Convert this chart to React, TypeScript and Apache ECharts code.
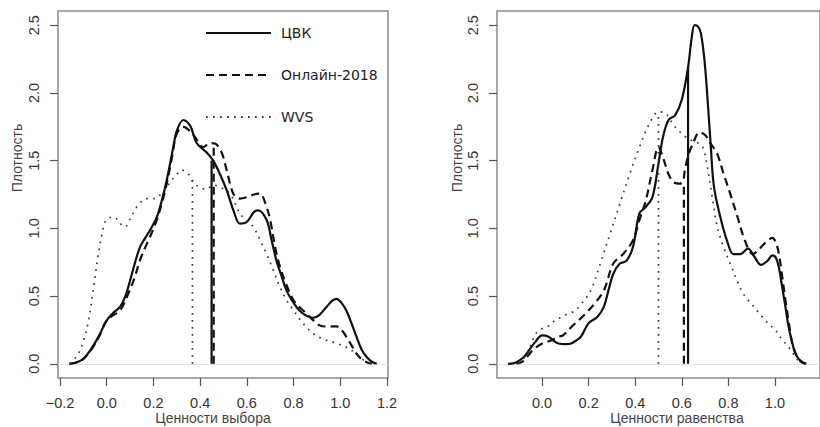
import React, { useEffect, useRef } from "react";
import * as echarts from "echarts";

const legendNames = ["ЦВК", "Онлайн-2018", "WVS"];
const choiceTicks = [-0.2, 0, 0.2, 0.4, 0.6, 0.8, 1.0, 1.2];
const equalityTicks = [0, 0.2, 0.4, 0.6, 0.8, 1.0];
const densityTicks = [0, 0.5, 1, 1.5, 2, 2.5];
const xTitles = ["Ценности выбора", "Ценности равенства"];
const yTitle = "Плотность";

// Density curves, panel 1 (choice values)
const cvkChoice = [
  [-0.16, 0], [-0.13, 0.01], [-0.1, 0.037], [-0.07, 0.1], [-0.036, 0.197], [0, 0.32], [0.03, 0.38],
  [0.057, 0.42], [0.08, 0.5], [0.1, 0.615], [0.12, 0.74], [0.142, 0.86], [0.165, 0.93], [0.185, 0.985],
  [0.214, 1.08], [0.235, 1.2], [0.257, 1.355], [0.285, 1.6], [0.3, 1.72], [0.328, 1.8], [0.357, 1.76],
  [0.385, 1.63], [0.428, 1.56], [0.456, 1.5], [0.485, 1.4], [0.514, 1.28], [0.545, 1.12], [0.57, 1.035],
  [0.6, 1.047], [0.63, 1.12], [0.649, 1.133], [0.685, 1.06], [0.705, 0.92], [0.727, 0.76], [0.75, 0.64],
  [0.77, 0.54], [0.8, 0.45], [0.827, 0.39], [0.86, 0.35], [0.884, 0.34], [0.91, 0.36], [0.941, 0.42],
  [0.965, 0.465], [0.984, 0.48], [1.005, 0.45], [1.027, 0.39], [1.05, 0.29], [1.07, 0.197], [1.09, 0.11],
  [1.113, 0.05], [1.135, 0.015], [1.156, 0],
];
const onlineChoice = [
  [-0.16, 0], [-0.13, 0.01], [-0.1, 0.035], [-0.06, 0.12], [-0.03, 0.21], [-0.007, 0.3], [0.02, 0.35],
  [0.057, 0.394], [0.092, 0.517], [0.12, 0.64], [0.142, 0.763], [0.165, 0.86], [0.185, 0.936], [0.214, 1.06],
  [0.235, 1.18], [0.257, 1.33], [0.28, 1.53], [0.3, 1.7], [0.328, 1.75], [0.371, 1.69], [0.414, 1.6],
  [0.442, 1.63], [0.464, 1.626], [0.492, 1.56], [0.515, 1.42], [0.542, 1.256], [0.57, 1.22], [0.6, 1.23],
  [0.63, 1.25], [0.656, 1.256], [0.68, 1.18], [0.7, 1.06], [0.72, 0.87], [0.742, 0.714], [0.77, 0.58],
  [0.8, 0.468], [0.83, 0.41], [0.856, 0.37], [0.885, 0.32], [0.913, 0.283], [0.95, 0.275], [0.984, 0.276],
  [1.005, 0.25], [1.027, 0.197], [1.05, 0.13], [1.07, 0.074], [1.09, 0.035], [1.113, 0.012], [1.135, 0],
];
const wvsChoice = [
  [-0.157, 0], [-0.143, 0.025], [-0.12, 0.08], [-0.1, 0.17], [-0.08, 0.3], [-0.064, 0.468], [-0.05, 0.64],
  [-0.036, 0.81], [-0.02, 0.96], [-0.007, 1.047], [0.014, 1.08], [0.035, 1.08], [0.055, 1.04], [0.078, 1.01],
  [0.1, 1.07], [0.128, 1.157], [0.15, 1.2], [0.171, 1.22], [0.207, 1.22], [0.23, 1.25], [0.257, 1.305],
  [0.28, 1.36], [0.3, 1.4], [0.321, 1.43], [0.35, 1.4], [0.371, 1.34], [0.4, 1.3], [0.428, 1.29],
  [0.456, 1.32], [0.485, 1.305], [0.528, 1.256], [0.57, 1.11], [0.6, 1.06], [0.628, 1.01], [0.655, 0.92],
  [0.685, 0.81], [0.713, 0.69], [0.742, 0.566], [0.77, 0.47], [0.8, 0.394], [0.84, 0.3], [0.884, 0.222],
  [0.93, 0.18], [0.97, 0.16], [1.0, 0.14], [1.027, 0.123], [1.055, 0.09], [1.084, 0.05], [1.105, 0.02],
  [1.127, 0],
];

// Density curves, panel 2 (equality values)
const cvkEquality = [
  [-0.146, 0], [-0.12, 0.005], [-0.097, 0.025], [-0.075, 0.055], [-0.056, 0.1], [-0.03, 0.16], [0, 0.21],
  [0.028, 0.2], [0.05, 0.17], [0.07, 0.15], [0.1, 0.145], [0.125, 0.15], [0.145, 0.17], [0.167, 0.2],
  [0.2, 0.3], [0.237, 0.345], [0.265, 0.42], [0.285, 0.54], [0.306, 0.665], [0.334, 0.74], [0.362, 0.76],
  [0.39, 0.86], [0.418, 1.11], [0.446, 1.16], [0.474, 1.23], [0.5, 1.48], [0.52, 1.68], [0.543, 1.8],
  [0.571, 1.835], [0.6, 1.95], [0.627, 2.19], [0.642, 2.4], [0.655, 2.5], [0.67, 2.49], [0.682, 2.44],
  [0.697, 2.25], [0.71, 1.97], [0.724, 1.62], [0.738, 1.31], [0.766, 1.08], [0.794, 0.91], [0.822, 0.81],
  [0.85, 0.81], [0.884, 0.85], [0.912, 0.79], [0.94, 0.73], [0.968, 0.76], [0.989, 0.8], [1.005, 0.78],
  [1.017, 0.71], [1.03, 0.58], [1.045, 0.42], [1.058, 0.28], [1.072, 0.17], [1.085, 0.09], [1.1, 0.04],
  [1.12, 0.01], [1.135, 0],
];
const onlineEquality = [
  [-0.11, 0], [-0.085, 0.015], [-0.07, 0.04], [-0.04, 0.1], [0, 0.15], [0.035, 0.17], [0.07, 0.2],
  [0.09, 0.21], [0.125, 0.27], [0.181, 0.36], [0.223, 0.44], [0.265, 0.54], [0.306, 0.74], [0.348, 0.81],
  [0.39, 0.91], [0.418, 1.06], [0.446, 1.21], [0.474, 1.43], [0.5, 1.6], [0.52, 1.52], [0.543, 1.4],
  [0.565, 1.34], [0.592, 1.33], [0.606, 1.35], [0.613, 1.43], [0.63, 1.55], [0.648, 1.626], [0.676, 1.71],
  [0.7, 1.69], [0.724, 1.626], [0.752, 1.55], [0.78, 1.4], [0.808, 1.256], [0.84, 1.08], [0.871, 0.91],
  [0.905, 0.81], [0.93, 0.84], [0.947, 0.874], [0.97, 0.91], [0.989, 0.93], [1.005, 0.89], [1.017, 0.81],
  [1.03, 0.66], [1.045, 0.47], [1.06, 0.3], [1.072, 0.17], [1.085, 0.09], [1.1, 0.04], [1.115, 0.01],
  [1.13, 0],
];
const wvsEquality = [
  [-0.1, 0], [-0.07, 0.06], [-0.045, 0.15], [-0.028, 0.22], [0, 0.26], [0.028, 0.28], [0.056, 0.32],
  [0.1, 0.36], [0.14, 0.39], [0.167, 0.44], [0.209, 0.54], [0.25, 0.74], [0.292, 0.96], [0.334, 1.18],
  [0.376, 1.4], [0.418, 1.6], [0.46, 1.77], [0.5, 1.86], [0.529, 1.85], [0.571, 1.75], [0.613, 1.68],
  [0.641, 1.65], [0.67, 1.63], [0.69, 1.6], [0.707, 1.48], [0.724, 1.305], [0.738, 1.15], [0.752, 1.01],
  [0.78, 0.86], [0.808, 0.74], [0.836, 0.62], [0.864, 0.517], [0.9, 0.44], [0.934, 0.37], [0.97, 0.3],
  [1.003, 0.246], [1.03, 0.18], [1.059, 0.123], [1.08, 0.07], [1.1, 0.024], [1.115, 0],
];

// Medians: [median, density at median] for ЦВК, Онлайн-2018, WVS
const medianChoice = [[0.449, 1.5], [0.458, 1.63], [0.367, 1.36]];
const medianEquality = [[0.627, 2.19], [0.609, 1.34], [0.5, 1.85]];

const FONT = "'Liberation Sans', Arial, sans-serif";

export default function App() {
  const ref = useRef<HTMLDivElement>(null);
  useEffect(() => {
    if (!ref.current) return;
    const chart = echarts.init(ref.current, null, { renderer: "svg" });
    const styles: any[] = [
      { color: "#111", width: 2.2, type: "solid" },
      { color: "#111", width: 2.2, type: [8, 5] },
      { color: "#3a3a3a", width: 1.7, type: [1.7, 5.3] },
    ];
    const curves = [
      [cvkChoice, onlineChoice, wvsChoice],
      [cvkEquality, onlineEquality, wvsEquality],
    ];
    const medians = [medianChoice, medianEquality];
    const fmt = (v: number) => (v < 0 ? "\u2212" + Math.abs(v).toFixed(1) : v.toFixed(1));
    const grids = [
      { left: 58, top: 11, width: 330, height: 367 },
      { left: 497, top: 11, width: 332, height: 367 },
    ];
    const xRanges = [
      [-0.2086, 1.2043],
      [-0.1935, 1.1935],
    ];
    const xTicks = [choiceTicks, equalityTicks];
    const series: any[] = [];
    for (let i = 0; i < 2; i++) {
      curves[i].forEach((d, k) => {
        series.push({
          type: "line",
          name: legendNames[k],
          xAxisIndex: i,
          yAxisIndex: i,
          data: d,
          smooth: 0.35,
          symbol: "none",
          silent: true,
          lineStyle: styles[k],
          itemStyle: { color: styles[k].color },
          z: 3,
          markLine:
            k === 0
              ? {
                  silent: true,
                  symbol: "none",
                  label: { show: false },
                  lineStyle: { color: "#e4e4e4", width: 1, type: "solid" },
                  data: [{ yAxis: 0 }],
                  z: 1,
                }
              : undefined,
        });
      });
      medians[i].forEach(([m, h], k) => {
        series.push({
          type: "line",
          name: legendNames[k] + " — медиана",
          xAxisIndex: i,
          yAxisIndex: i,
          data: [
            [m, 0],
            [m, h],
          ],
          symbol: "none",
          silent: true,
          lineStyle: styles[k],
          itemStyle: { color: styles[k].color },
          z: 3,
        });
      });
    }
    const option: any = {
      animation: false,
      backgroundColor: "#fff",
      grid: grids.map((g) => ({ ...g, show: true, borderColor: "#8c8c8c", borderWidth: 1.5, backgroundColor: "transparent" })),
      xAxis: [0, 1].map((i) => ({
        type: "value",
        gridIndex: i,
        min: xRanges[i][0],
        max: xRanges[i][1],
        axisLine: { show: false, onZero: false },
        splitLine: { show: false },
        axisTick: { show: true, length: 8, lineStyle: { color: "#555", width: 1.2 }, customValues: xTicks[i] },
        axisLabel: {
          customValues: xTicks[i],
          formatter: fmt,
          margin: 17,
          fontFamily: FONT,
          fontSize: 14.5,
          color: "#333",
        },
      })),
      yAxis: [0, 1].map((i) => ({
        type: "value",
        gridIndex: i,
        min: -0.105,
        max: 2.605,
        axisLine: { show: false, onZero: false },
        splitLine: { show: false },
        axisTick: { show: true, length: 8, lineStyle: { color: "#555", width: 1.2 }, customValues: densityTicks },
        axisLabel: {
          customValues: densityTicks,
          formatter: fmt,
          rotate: 90,
          margin: 17,
          fontFamily: FONT,
          fontSize: 14.5,
          color: "#333",
        },
      })),
      legend: {
        data: legendNames,
        orient: "vertical",
        left: 200,
        top: 21,
        itemWidth: 65,
        itemHeight: 14,
        itemGap: 28,
        selectedMode: false,
        itemStyle: { color: "transparent", borderColor: "transparent", borderWidth: 0 },
        textStyle: { fontFamily: "'DejaVu Sans', sans-serif", fontSize: 14, color: "#222", padding: [0, 0, 0, 5] },
      },
      graphic: [
        ...[17, 457].map((x) => ({
          type: "text",
          x,
          y: 158,
          rotation: Math.PI / 2,
          style: {
            text: yTitle,
            font: `14px ${FONT}`,
            fill: "#444",
            textAlign: "center",
            textVerticalAlign: "middle",
            align: "center",
            verticalAlign: "middle",
          },
        })),
        ...[213, 677].map((x, i) => ({
          type: "text",
          x,
          y: 418,
          style: {
            text: xTitles[i],
            font: `14px ${FONT}`,
            fill: "#444",
            textAlign: "center",
            textVerticalAlign: "middle",
            align: "center",
            verticalAlign: "middle",
          },
        })),
      ],
      series,
    };
    chart.setOption(option);
    return () => chart.dispose();
  }, []);
  return <div ref={ref} style={{ position: "fixed", left: 0, top: 0, width: 820, height: 427 }} />;
}
